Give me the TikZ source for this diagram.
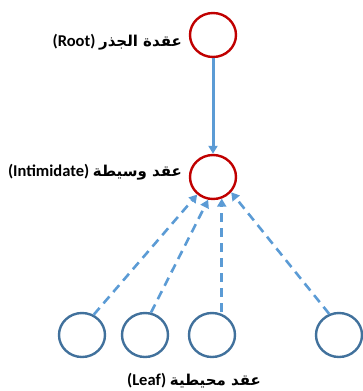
\documentclass[tikz,border=0pt]{standalone}
\usepackage{fontspec}
\usetikzlibrary{arrows.meta,shapes.geometric}
\TeXXeTstate=1
\setmainfont{Carlito}
\newfontfamily\arabicfont[Script=Arabic]{DejaVu Sans}
\newcommand{\artxt}[1]{{\arabicfont\fontsize{15}{17}\selectfont\beginR #1\endR}}
\definecolor{rootred}{RGB}{192,0,0}
\definecolor{leafblue}{RGB}{65,113,156}
\definecolor{arrblue}{RGB}{91,155,213}
\tikzset{
  rednode/.style={ellipse,draw=rootred,line width=2.4pt,minimum width=46pt,minimum height=44pt,inner sep=0pt},
  leafnode/.style={ellipse,draw=leafblue,line width=2.4pt,minimum width=46pt,minimum height=44pt,inner sep=0pt},
  solidarr/.style={draw=arrblue,line width=3pt,-{Triangle[length=8pt,width=9pt]}},
  dasharr/.style={draw=arrblue,line width=2.6pt,dash pattern=on 9pt off 6pt,-{Triangle[length=8pt,width=9pt]}},
  lbl/.style={font=\fontsize{16.5}{19}\selectfont\bfseries,inner sep=0pt}
}
\begin{document}
\begin{tikzpicture}[x=1pt,y=-1pt]
\useasboundingbox (0,0) rectangle (362,391);
\node[rednode] (root) at (213,35) {};
\node[rednode] (mid) at (213,177) {};
\node[leafnode] (l1) at (82,335) {};
\node[leafnode] (l2) at (145,335) {};
\node[leafnode] (l3) at (212,335) {};
\node[leafnode] (l4) at (339,335) {};
\draw[solidarr] (root.south) -- (mid.north);
\draw[dasharr] (l1.60) -- (mid.-132);
\draw[dasharr] (l2.75) -- (mid.-102);
\draw[dasharr] (l3.north -| mid.-68) -- (mid.-68);
\draw[dasharr] (l4.115) -- (mid.-40);
\node[lbl,anchor=east] (t1) at (182,42) {(Root) \artxt{عقدة الجذر}};
\node[lbl,anchor=east] (t2) at (182,172) {(Intimidate) \artxt{عقد وسيطة}};
\node[lbl] (t3) at (194,381) {(Leaf) \artxt{عقد محيطية}};
\end{tikzpicture}
\end{document}
